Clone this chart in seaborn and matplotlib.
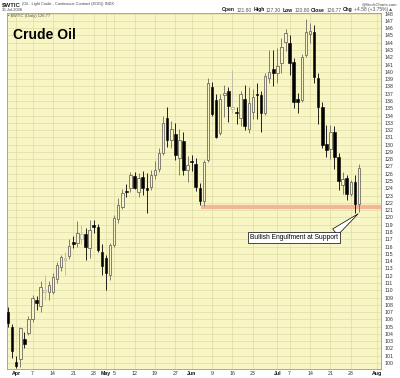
import matplotlib
matplotlib.use("Agg")
import matplotlib.pyplot as plt
import seaborn as sns
import pandas as pd

# ---------------- data ----------------
mar_days = [28, 31]
apr_days = [1, 2, 3, 4, 7, 8, 9, 10, 11, 14, 15, 16, 17, 18, 21, 22, 23, 24, 25, 28, 29, 30]
may_days = [1, 2, 5, 6, 7, 8, 9, 12, 13, 14, 15, 16, 19, 20, 21, 22, 23, 27, 28, 29, 30]
jun_days = [2, 3, 4, 5, 6, 9, 10, 11, 12, 13, 16, 17, 18, 19, 20, 23, 24, 25, 26, 27, 30]
jul_days = [1, 2, 3, 7, 8, 9, 10, 11, 14, 15, 16, 17, 18, 21, 22, 23, 24, 25, 28, 29, 30]

opens = [107.0, 105.0,
         100.2, 100.6, 103.3, 104.1, 106.0, 108.7, 107.8, 109.7, 109.8, 109.8, 111.5, 113.2, 114.2, 114.7,
         116.6, 116.5, 117.0, 117.7, 115.8, 118.9, 118.7, 115.3,
         114.4, 112.1, 116.2, 119.8, 121.5, 123.6, 124.1, 125.7, 123.5, 125.6, 124.0, 124.2, 125.8, 126.7,
         128.9, 133.7, 130.6, 131.5, 128.1, 130.5, 126.5,
         127.8, 127.3, 124.1, 122.2, 127.9, 137.9, 136.1, 131.6, 136.8, 137.4, 134.85, 134.5, 133.6, 136.3,
         132.2, 134.5, 137.0, 136.8, 134.4, 139.2, 140.4,
         139.9, 141.2, 144.1, 144.0, 141.4, 136.2, 136.1, 142.3, 145.15, 145.5, 139.1, 135.2, 130.1, 129.4,
         131.8, 128.3, 124.4, 125.4, 123.2, 124.8, 121.8]
highs = [107.7, 105.3,
         100.9, 105.0, 104.2, 106.4, 109.3, 109.2, 111.2, 112.1, 111.3, 112.3, 113.9, 114.9, 115.3, 117.0,
         117.5, 119.5, 118.9, 118.6, 119.6, 119.6, 119.1, 116.3,
         114.8, 116.5, 120.4, 122.7, 123.9, 124.6, 126.2, 126.2, 126.1, 126.4, 126.1, 126.5, 127.8, 129.5,
         133.9, 135.1, 133.3, 133.0, 132.2, 131.8, 128.4,
         128.6, 128.2, 124.7, 127.9, 139.1, 138.6, 136.9, 137.0, 138.2, 137.9, 140.2, 135.1, 137.4, 138.2,
         137.9, 137.6, 138.5, 137.3, 139.8, 143.0, 143.0,
         143.3, 144.6, 145.85, 145.0, 141.9, 137.1, 142.5, 147.27, 146.7, 146.4, 139.8, 135.9, 132.7, 132.7,
         132.5, 128.8, 126.2, 125.8, 125.2, 125.8, 127.3]
lows = [105.0, 100.7,
        99.3, 99.4, 102.0, 103.8, 105.6, 107.3, 107.0, 108.6, 108.7, 109.5, 111.0, 112.7, 112.1, 114.3,
        115.8, 115.9, 116.4, 114.1, 114.4, 117.9, 115.2, 112.1,
        110.0, 111.4, 116.0, 119.2, 121.2, 122.8, 123.5, 123.9, 122.8, 123.1, 120.6, 123.7, 125.3, 126.2,
        128.6, 129.7, 129.6, 127.9, 125.8, 125.8, 124.9,
        126.4, 123.6, 121.7, 121.6, 127.6, 133.9, 130.9, 131.3, 133.8, 133.1, 134.3, 132.9, 132.6, 132.0,
        131.6, 133.5, 133.5, 131.8, 134.1, 138.4, 138.0,
        138.5, 139.8, 142.9, 139.5, 135.0, 134.4, 135.8, 142.1, 143.9, 138.5, 132.9, 129.5, 128.3, 128.0,
        126.7, 123.8, 123.2, 122.4, 122.9, 120.6, 120.8]
closes = [105.5, 101.6,
          99.6, 104.8, 102.6, 106.1, 108.9, 108.3, 110.5, 110.0, 110.7, 111.8, 113.5, 114.5, 114.4, 116.1,
          116.4, 117.9, 117.7, 115.9, 118.3, 118.7, 115.5, 113.3,
          112.3, 116.2, 119.9, 121.7, 123.3, 123.5, 125.8, 124.1, 125.4, 124.0, 123.8, 125.8, 126.5, 128.8,
          133.0, 130.7, 132.1, 128.6, 130.7, 126.5, 127.2,
          127.6, 124.2, 122.2, 127.65, 138.4, 134.2, 131.1, 136.2, 137.1, 135.3, 135.2, 134.3, 136.9, 132.5,
          135.7, 136.6, 136.85, 134.4, 139.4, 140.0, 139.8,
          140.8, 143.4, 145.3, 141.2, 135.9, 135.9, 142.1, 145.5, 145.6, 139.25, 135.2, 129.9, 129.3, 131.8,
          128.3, 125.0, 125.3, 123.2, 124.8, 121.9, 126.77]

tick_dates = ["2008-04-01", "2008-04-07", "2008-04-14", "2008-04-21", "2008-04-28",
              "2008-05-01", "2008-05-05", "2008-05-12", "2008-05-19", "2008-05-27",
              "2008-06-02", "2008-06-09", "2008-06-16", "2008-06-23",
              "2008-07-01", "2008-07-07", "2008-07-14", "2008-07-21", "2008-07-28"]
tick_labels = ["Apr", "7", "14", "21", "28", "May", "5", "12", "19", "27",
               "Jun", "9", "16", "23", "Jul", "7", "14", "21", "28"]
month_labels = ["Apr", "May", "Jun", "Jul", "Aug"]
support_level = 121.43
note_text = "Bullish Engulfment at Support"

# ---------------- build ----------------
dates = ([f"2008-03-{d:02d}" for d in mar_days] + [f"2008-04-{d:02d}" for d in apr_days] +
         [f"2008-05-{d:02d}" for d in may_days] + [f"2008-06-{d:02d}" for d in jun_days] +
         [f"2008-07-{d:02d}" for d in jul_days])
df = pd.DataFrame({"date": dates, "open": opens, "high": highs, "low": lows, "close": closes})
df["x"] = range(len(df))
df["prev"] = df["close"].shift(1).fillna(df["open"])
df["filled"] = df["close"] < df["open"]
df["bottom"] = df[["open", "close"]].min(axis=1)
df["height"] = (df["close"] - df["open"]).abs().clip(lower=0.12)

BG = "#F9F6C6"
GRID = "#E0DCA4"
DARK = "#6c6c64"
PALE = "#b8b7a8"

sns.set_theme(style="white")
plt.rcParams["font.family"] = ["Liberation Sans", "DejaVu Sans"]

W, H = 400, 378
fig = plt.figure(figsize=(W / 100, H / 100), dpi=100)
fig.patch.set_facecolor("white")
L, R, T, B = 7, 381, 13, 369
ax = fig.add_axes([L / W, 1 - B / H, (R - L) / W, (B - T) / H])
ax.set_facecolor(BG)

def colr(row):
    if row.filled:
        return "black"
    return DARK if row.close >= row.prev else PALE

df["col"] = [colr(r) for r in df.itertuples()]

ax.vlines(df["x"], df["low"], df["high"], colors=df["col"], lw=0.6, zorder=3)
hol = df[~df["filled"]]
fil = df[df["filled"]]
ax.bar(hol["x"], hol["height"], bottom=hol["bottom"], width=0.62, color=BG,
       edgecolor=hol["col"], linewidth=0.6, zorder=4)
ax.bar(fil["x"], fil["height"], bottom=fil["bottom"], width=0.62, color="black",
       edgecolor="black", linewidth=0.4, zorder=4)

# support line
x_start = df.index[df["date"] == "2008-06-04"][0] + 0.3
ax.hlines(support_level, x_start, 92, colors="#F5B597", lw=3.0, zorder=2.5)

# axes
ax.set_xlim(-0.25, 91.4)
ax.set_ylim(99.18, 148.08)
tick_pos = [int(df.index[df["date"] == d][0]) for d in tick_dates] + [90.3]
ax.set_xticks(tick_pos)
ax.set_xticklabels(tick_labels + ["Aug"])
ax.set_yticks(range(100, 149))
ax.yaxis.tick_right()
ax.tick_params(axis="y", length=0, pad=2.5, labelsize=3.8, colors="#333333")
ax.tick_params(axis="x", length=0, pad=1.5, labelsize=3.8, colors="#333333")
for t in ax.get_xticklabels():
    if t.get_text() in month_labels:
        t.set_fontweight("bold")
        t.set_color("#111111")
ax.grid(True, axis="both", color=GRID, lw=0.5, zorder=0)
ax.set_axisbelow(True)
for s in ax.spines.values():
    s.set_color("#9a9a90")
    s.set_linewidth(0.6)

# annotation
ax.annotate(note_text, xy=(85.8, 120.5), xytext=(70.2, 117.2), fontsize=4.8,
            ha="center", va="center", color="black",
            bbox=dict(boxstyle="square,pad=0.3", fc="white", ec="black", lw=0.5),
            arrowprops=dict(arrowstyle="wedge,tail_width=1.2,shrink_factor=0.5",
                            fc="white", ec="black", lw=0.5, shrinkA=0, shrinkB=0,
                            relpos=(0.93, 1.0)),
            zorder=6)

# texts
def fx(px): return px / W
def fy(py): return 1 - py / H

ax.text((13 - L) / (R - L), 1 - (35 - T) / (B - T), "Crude Oil", transform=ax.transAxes,
        fontsize=10, fontweight="bold", va="center", ha="left", color="black",
        family="Liberation Sans", zorder=7)
ax.text((8 - L) / (R - L), 1 - (16 - T) / (B - T), "\u25AA $WTIC (Daily) 126.77",
        transform=ax.transAxes, fontsize=3.0, va="center", ha="left", color="#555555", zorder=7)

fig.text(fx(2), fy(4.5), "$WTIC", fontsize=4.4, fontweight="bold", va="center", ha="left")
fig.text(fx(22), fy(4.5), "(Oil - Light Crude - Continuous Contract (EOD)) INDX", fontsize=2.8,
         va="center", ha="left", color="#444444")
fig.text(fx(2), fy(10), "30-Jul-2008", fontsize=2.9, va="center", ha="left", color="#444444")
fig.text(fx(397), fy(4.5), "@StockCharts.com", fontsize=3.0, va="center", ha="right", color="#444444")

pieces = [("Open", True), ("121.80", False), ("High", True), ("127.30", False),
          ("Low", True), ("120.80", False), ("Close", True), ("126.77", False),
          ("Chg", True), ("+4.58 (+3.75%)\u25B2", False)]
fig.canvas.draw()
rend = fig.canvas.get_renderer()
xcur = 222.0
for txt, bold in pieces:
    t = fig.text(fx(xcur), fy(10), txt, fontsize=3.6, va="center", ha="left",
                 fontweight="bold" if bold else "normal",
                 color="#111111" if bold else "#555555", family=["Liberation Sans", "DejaVu Sans"])
    bb = t.get_window_extent(renderer=rend)
    xcur += bb.width + 1.5

fig.savefig("out.png", dpi=100, facecolor="white")
